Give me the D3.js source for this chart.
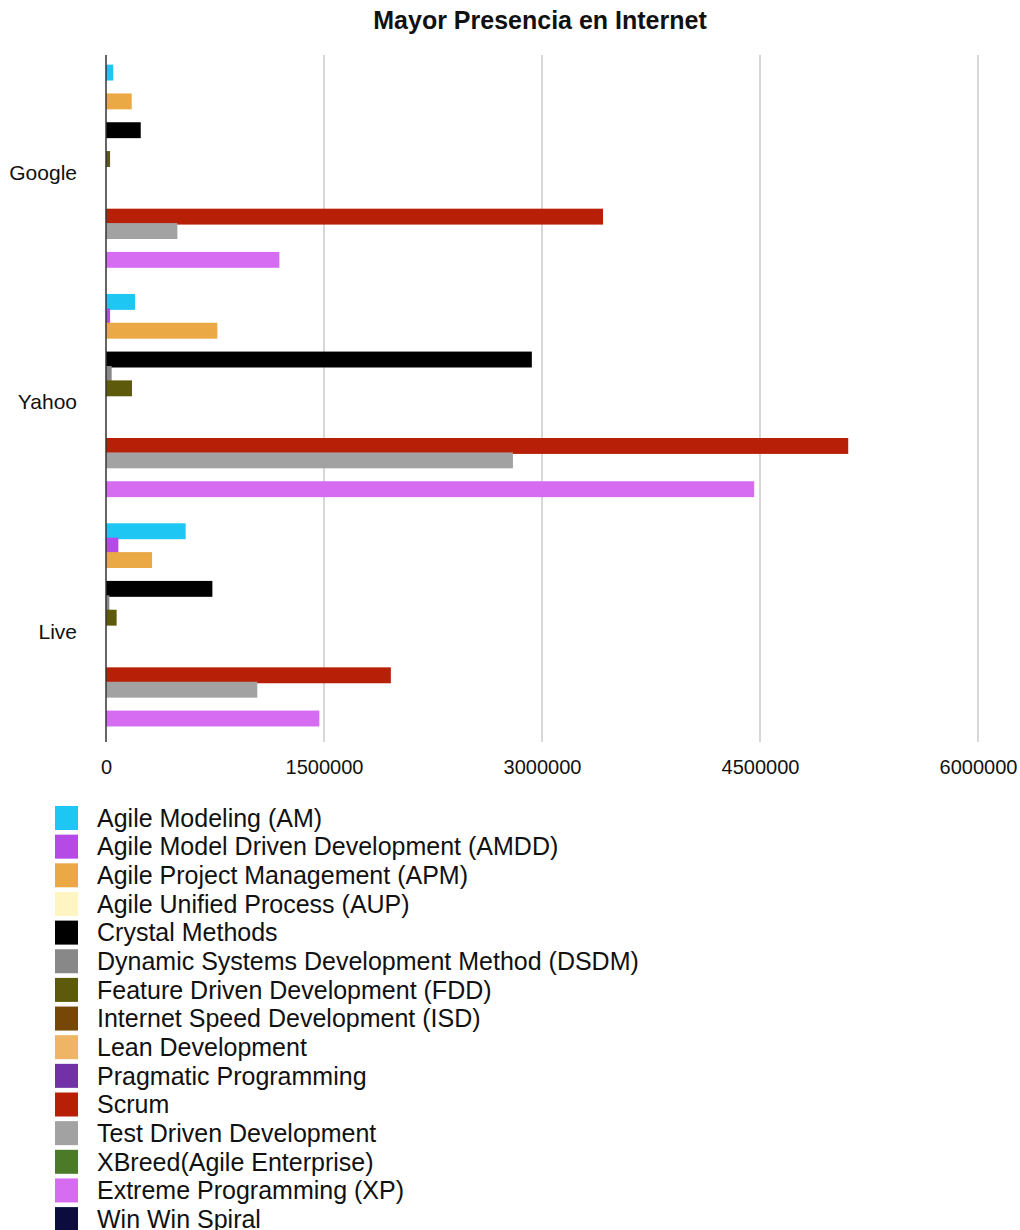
<!DOCTYPE html>
<html>
<head>
  <meta charset="utf-8">
  <title>Mayor Presencia en Internet</title>
  <script src="https://d3js.org/d3.v7.min.js"></script>
  <style>
    body { margin: 0; background: #fff; }
    svg text { font-family: "Liberation Sans", Arial, sans-serif; fill: #111; }
  </style>
</head>
<body>
<svg id="chart" width="1020" height="1230"></svg>
<script>
// data
var categories = ["Google", "Yahoo", "Live"];
var series = [
  "Agile Modeling (AM)",
  "Agile Model Driven Development (AMDD)",
  "Agile Project Management (APM)",
  "Agile Unified Process (AUP)",
  "Crystal Methods",
  "Dynamic Systems Development Method (DSDM)",
  "Feature Driven Development (FDD)",
  "Internet Speed Development (ISD)",
  "Lean Development",
  "Pragmatic Programming",
  "Scrum",
  "Test Driven Development",
  "XBreed(Agile Enterprise)",
  "Extreme Programming (XP)",
  "Win Win Spiral"
];
var colors = ["#1ec6f4", "#b64ae6", "#eba946", "#fff5c2", "#000000", "#888888", "#5e5a0c",
  "#774707", "#edb565", "#7331a8", "#b71f06", "#a2a2a2", "#4b7a28", "#d56cf2", "#0c0c3e"];
// one array per search engine, same order as series
var google = [50000, 0, 177000, 0, 239000, 0, 28000, 0, 0, 0, 3420000, 491000, 0, 1193000, 0];
var yahoo  = [200000, 28000, 766000, 0, 2930000, 39000, 179000, 0, 0, 0, 5107000, 2800000, 0, 4460000, 0];
var live   = [548000, 85000, 317000, 0, 732000, 23000, 73000, 0, 0, 0, 1960000, 1041000, 0, 1468000, 0];
var xTicks = [0, 1500000, 3000000, 4500000, 6000000];

var values = { Google: google, Yahoo: yahoo, Live: live };

var svg = d3.select("#chart");

var x = d3.scaleLinear().domain([0, 6000000]).range([106, 978]);
var y0 = d3.scaleBand().domain(categories).range([58, 746]);
var y1 = d3.scaleBand().domain(series).range([0, y0.bandwidth()]).paddingOuter(0.46);
var color = d3.scaleOrdinal().domain(series).range(colors);

// title
svg.append("text")
  .attr("x", 540)
  .attr("y", 29)
  .attr("text-anchor", "middle")
  .style("font-size", "25px")
  .style("font-weight", "bold")
  .text("Mayor Presencia en Internet");

// grid lines
svg.append("g").selectAll("line")
  .data(xTicks.slice(1))
  .enter().append("line")
  .attr("x1", function(d) { return x(d); })
  .attr("x2", function(d) { return x(d); })
  .attr("y1", 55)
  .attr("y2", 742)
  .attr("stroke", "#bdbdbd")
  .attr("stroke-width", 1.2);

// bars
var groups = svg.append("g").selectAll("g")
  .data(categories)
  .enter().append("g")
  .attr("transform", function(d) { return "translate(0," + y0(d) + ")"; });

groups.selectAll("rect")
  .data(function(c) { return series.map(function(s, i) { return { s: s, v: values[c][i] }; }); })
  .enter().append("rect")
  .attr("x", x(0))
  .attr("y", function(d) { return y1(d.s); })
  .attr("width", function(d) { return x(d.v) - x(0); })
  .attr("height", y1.bandwidth() + 1.5)
  .attr("fill", function(d) { return color(d.s); });

// y axis line
svg.append("line")
  .attr("x1", x(0)).attr("x2", x(0))
  .attr("y1", 55).attr("y2", 742)
  .attr("stroke", "#333")
  .attr("stroke-width", 1.5);

// category labels
svg.append("g").selectAll("text")
  .data(categories)
  .enter().append("text")
  .attr("x", 77)
  .attr("y", function(d) { return y0(d) + y0.bandwidth() / 2; })
  .attr("dy", "0.35em")
  .attr("text-anchor", "end")
  .style("font-size", "21px")
  .text(function(d) { return d; });

// x axis labels
var xAxis = d3.axisBottom(x).tickValues(xTicks).tickSize(0).tickPadding(0).tickFormat(d3.format("d"));
var gx = svg.append("g").attr("transform", "translate(0,760)").call(xAxis);
gx.select(".domain").remove();
gx.selectAll("text")
  .style("font-size", "20px")
  .style("font-family", "'Liberation Sans', Arial, sans-serif")
  .attr("fill", "#111");

// legend
var legend = svg.append("g").selectAll("g")
  .data(series)
  .enter().append("g")
  .attr("transform", function(d, i) { return "translate(55," + (818 + i * 28.65) + ")"; });

legend.append("rect")
  .attr("x", 0)
  .attr("y", -12)
  .attr("width", 23)
  .attr("height", 24)
  .attr("fill", function(d) { return color(d); });

legend.append("text")
  .attr("x", 42)
  .attr("y", 0)
  .attr("dy", "0.35em")
  .style("font-size", "25px")
  .text(function(d) { return d; });
</script>
</body>
</html>
